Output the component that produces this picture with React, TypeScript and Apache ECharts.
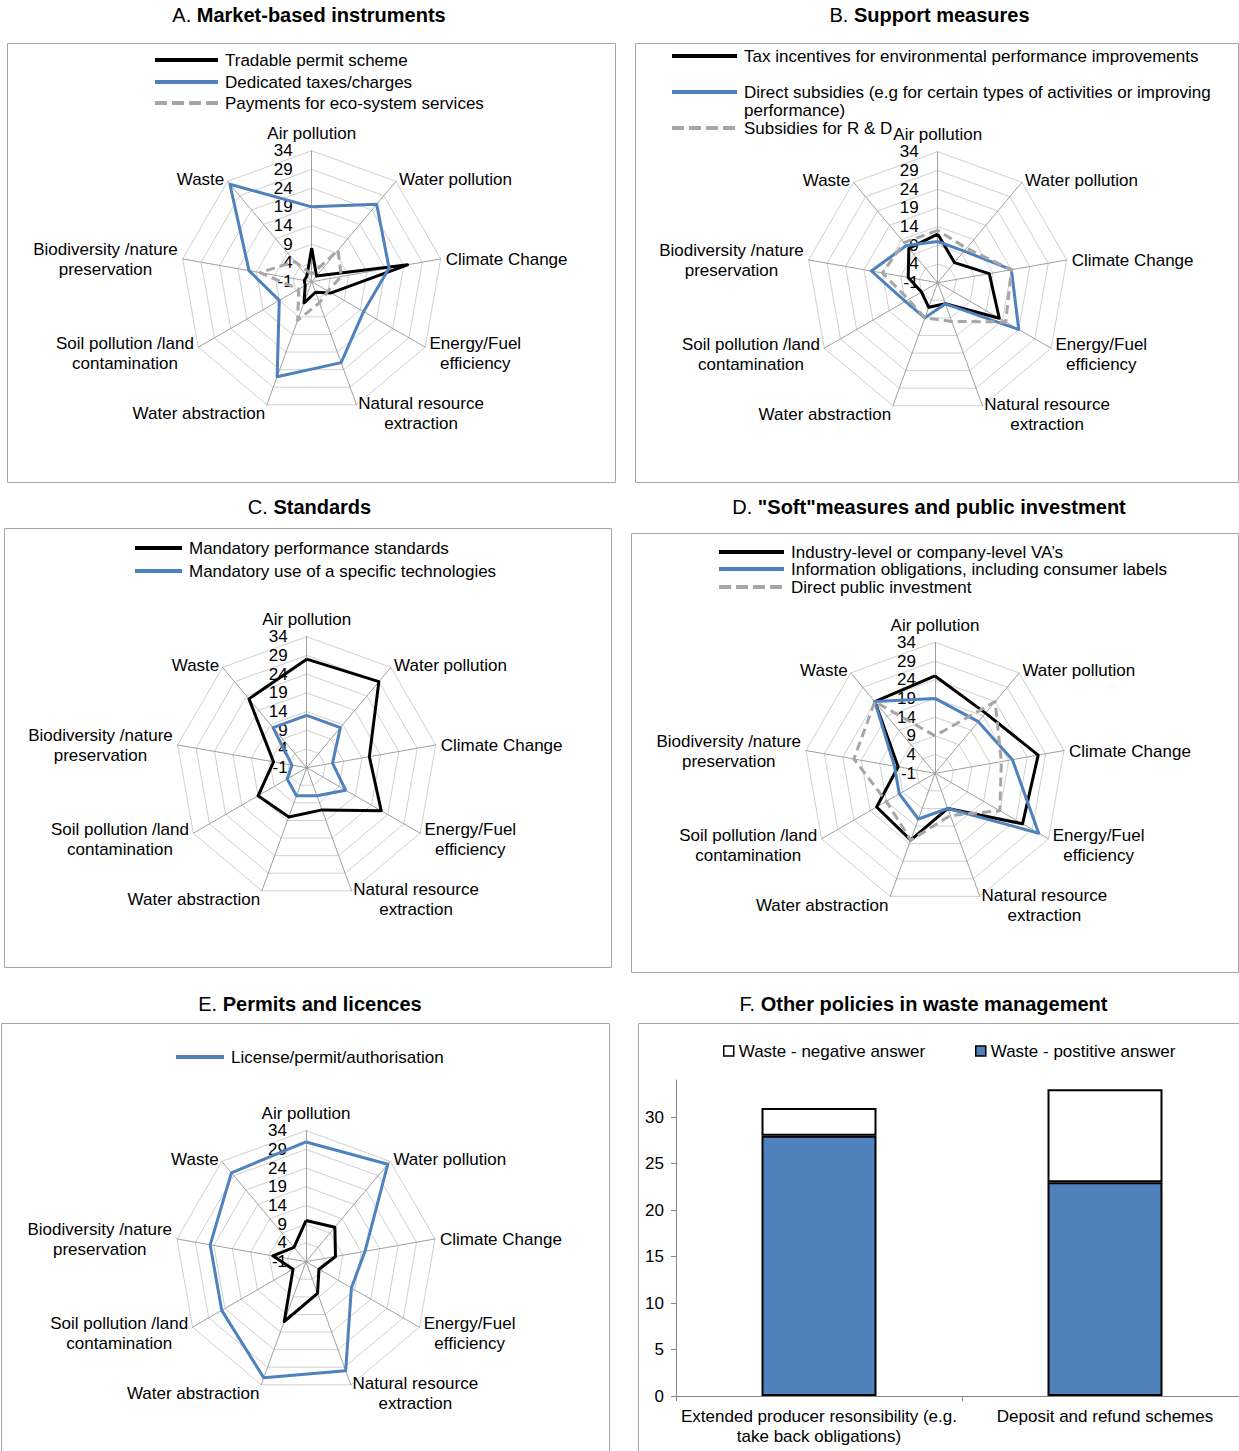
import React, { useEffect, useRef } from 'react';
import * as echarts from 'echarts';

const FONT = '"Liberation Sans", Arial, Helvetica, sans-serif';
const BLACK = '#000000';
const BLUE = '#4f81bd';
const GREY = '#a6a6a6';
const FRAME = '#a6a6a6';
const RING = '#d0d0d0';
const SPOKE = '#a0a0a0';
const AXIS = '#868686';

// Radar axes, listed clockwise from the top
const AXES = [
  'Air pollution',
  'Water pollution',
  'Climate Change',
  'Energy/Fuel\nefficiency',
  'Natural resource\nextraction',
  'Water abstraction',
  'Soil pollution /land\ncontamination',
  'Biodiversity /nature\npreservation',
  'Waste',
];
// Axes whose names sit in the lower half of the radar
const LOWER_AXES = [3, 4, 5, 6];

const RADAR_MIN = -1;
const RADAR_MAX = 34;
const RADAR_SPLITS = 7;

// A. Market-based instruments
const tradablePermits = [8, 1, 25, 5, 2, 5, 1, 1, 1];
const dedicatedTaxes = [19, 26, 20, 15, 22, 26, 9, 16, 33];
const ecosystemPayments = [1, 10, 7, 4, 5, 10, 3, 13, 6];
// B. Support measures
const taxIncentives = [12, 6, 13, 18, 5, 6, 4, 7, 11];
const directSubsidies = [10, 10, 19, 24, 5, 9, 9, 17, 12];
const rdSubsidies = [13, 11, 19, 20, 10, 9, 8, 14, 13];
// C. Standards
const performanceStandards = [28, 29, 16, 22, 11, 13, 14, 8, 23];
const specificTechnologies = [13, 13, 6, 11, 7, 7, 5, 3, 13];
// D. "Soft" measures and public investment
const voluntaryAgreements = [25, 20, 27, 26, 9, 18, 17, 9, 24];
const informationObligations = [19, 17, 20, 31, 9, 12, 10, 10, 24];
const publicInvestment = [9, 24, 17, 19, 11, 18, 14, 21, 24];
// E. Permits and licences
const licences = [31, 33, 15, 13, 30, 32, 25, 25, 30];
const otherPermits = [10, 11, 7, 3, 8, 16, 3, 8, 4];
// F. Other policies in waste management
const wasteCategories = [
  'Extended producer resonsibility (e.g.\ntake back obligations)',
  'Deposit and refund schemes',
];
const wastePositive = [28, 23];
const wasteNegative = [3, 10];
const wasteTicks = [0, 5, 10, 15, 20, 25, 30];
const WASTE_MAX = 34;

// ECharts places radar indicators counter-clockwise; reorder so the axes run clockwise.
const CLOCKWISE = [0, 8, 7, 6, 5, 4, 3, 2, 1];
const clockwise = <T,>(arr: T[]): T[] => CLOCKWISE.map((i) => arr[i]);

type Line = {
  name: string;
  values: number[];
  color: string;
  dashed?: boolean;
  legendY?: number;
  wrapped?: boolean;
  legendLineHeight?: number;
};

type Panel = {
  prefix: string;
  title: string;
  titleX: number;
  titleY: number;
  center?: [number, number];
  legendX?: number;
  legendW?: number;
  lines?: Line[];
};

const PANELS: Panel[] = [
  {
    prefix: 'A.', title: 'Market-based instruments', titleX: 309, titleY: 15,
    center: [311.7, 281.7], legendX: 155, legendW: 63,
    lines: [
      { name: 'Tradable permit scheme', values: tradablePermits, color: BLACK, legendY: 60 },
      { name: 'Dedicated taxes/charges', values: dedicatedTaxes, color: BLUE, legendY: 82 },
      { name: 'Payments for eco-system services', values: ecosystemPayments, color: GREY, dashed: true, legendY: 103 },
    ],
  },
  {
    prefix: 'B.', title: 'Support measures', titleX: 929.5, titleY: 15,
    center: [937.7, 282.7], legendX: 672, legendW: 65,
    lines: [
      { name: 'Tax incentives for environmental performance improvements', values: taxIncentives, color: BLACK, legendY: 56 },
      { name: 'Direct subsidies (e.g for certain types of activities or improving performance)', values: directSubsidies, color: BLUE, legendY: 92, wrapped: true, legendLineHeight: 18 },
      { name: 'Subsidies for R & D', values: rdSubsidies, color: GREY, dashed: true, legendY: 128, legendLineHeight: 18 },
    ],
  },
  {
    prefix: 'C.', title: 'Standards', titleX: 309.5, titleY: 507,
    center: [306.7, 767.7], legendX: 135, legendW: 47,
    lines: [
      { name: 'Mandatory performance standards', values: performanceStandards, color: BLACK, legendY: 548 },
      { name: 'Mandatory use of a specific technologies', values: specificTechnologies, color: BLUE, legendY: 571 },
    ],
  },
  {
    prefix: 'D.', title: '"Soft"measures and public investment', titleX: 929, titleY: 507,
    center: [935, 773.3], legendX: 719, legendW: 65,
    lines: [
      { name: 'Industry-level or company-level VA\u2019s', values: voluntaryAgreements, color: BLACK, legendY: 552, legendLineHeight: 17 },
      { name: 'Information obligations, including consumer labels', values: informationObligations, color: BLUE, legendY: 569, legendLineHeight: 17 },
      { name: 'Direct public investment', values: publicInvestment, color: GREY, dashed: true, legendY: 587, legendLineHeight: 17 },
    ],
  },
  {
    prefix: 'E.', title: 'Permits and licences', titleX: 310, titleY: 1004,
    center: [306, 1261.7], legendX: 176, legendW: 48,
    lines: [
      { name: 'Permits - other instruments', values: otherPermits, color: BLACK },
      { name: 'License/permit/authorisation', values: licences, color: BLUE, legendY: 1057 },
    ],
  },
  { prefix: 'F.', title: 'Other policies in waste management', titleX: 923.5, titleY: 1004 },
];

// Panel frames: x, y, width, height
const FRAMES: [number, number, number, number][] = [
  [7, 43, 608, 439],
  [635, 43, 603, 439],
  [4, 528, 607, 439],
  [631, 533, 607, 439],
  [1, 1023, 608, 440],
  [638, 1023, 610, 440],
];

const TEXT_STYLE = { fontSize: 17, fontFamily: FONT, color: '#000', lineHeight: 20 };
const LEGEND_TEXT_GAP = 2;

// Legend line icons; the zero-area tail widens the icon box so the label sits a little further out.
function solidIcon(width: number): string {
  const tail = width + LEGEND_TEXT_GAP;
  return `path://M0,0H${width}V4H0Z M${tail},0L${tail},4`;
}

function dashIcon(width: number): string {
  const parts: string[] = [];
  for (let x = 0; x < width; x += 17) {
    const w = Math.min(12, width - x);
    if (w > 0) parts.push(`M${x},0H${x + w}V4H${x}Z`);
  }
  const tail = width + LEGEND_TEXT_GAP;
  parts.push(`M${tail},0L${tail},4`);
  return 'path://' + parts.join(' ');
}

// A thin spacer line above each side name nudges it down a little.
function axisNameFormatter(name: string): string {
  const idx = AXES.indexOf(name);
  if (idx === 0) return name;
  const spacer = LOWER_AXES.includes(idx) ? '{s| }' : '{t| }';
  return spacer + '\n' + name.split('\n').map((l) => `{c|${l}}`).join('\n');
}

function buildOption() {
  const radarPanels = PANELS.filter((p) => p.center);

  const radar = radarPanels.map((p) => ({
    center: p.center,
    radius: 131,
    startAngle: 90,
    shape: 'polygon',
    splitNumber: RADAR_SPLITS,
    nameGap: 5,
    nameMoveOverlap: false,
    indicator: clockwise(AXES).map((name, i) => ({
      name,
      min: RADAR_MIN,
      max: RADAR_MAX,
      ...(i === 0 ? { axisLabel: { show: true }, nameMoveOverlap: false, nameGap: 7 } : {}),
    })),
    axisName: {
      ...TEXT_STYLE,
      formatter: axisNameFormatter,
      rich: {
        c: { ...TEXT_STYLE, align: 'center' },
        s: { fontSize: 1, lineHeight: 8, fontFamily: FONT },
        t: { fontSize: 1, lineHeight: 3, fontFamily: FONT },
      },
    },
    axisLine: { show: true, lineStyle: { color: SPOKE, width: 1 } },
    axisTick: { show: false },
    axisLabel: {
      show: false, fontSize: 17, lineHeight: 14, fontFamily: FONT, color: '#000', margin: 19,
      showMinLabel: true, showMaxLabel: true,
    },
    splitLine: { show: true, lineStyle: { color: RING, width: 1 } },
    splitArea: { show: false },
  }));

  const series: any[] = [];
  const legend: any[] = [];

  radarPanels.forEach((p, ri) => {
    (p.lines || []).forEach((line) => {
      series.push({
        type: 'radar',
        radarIndex: ri,
        name: line.name,
        symbol: 'none',
        silent: true,
        itemStyle: { color: line.color },
        lineStyle: { color: line.color, width: 3, type: line.dashed ? [9, 5] : 'solid', cap: 'butt' },
        data: [{ name: line.name, value: clockwise(line.values) }],
      });
      if (line.legendY != null) {
        const w = p.legendW as number;
        const lh = line.legendLineHeight ?? 20;
        legend.push({
          data: [{
            name: line.name,
            icon: line.dashed ? dashIcon(w) : solidIcon(w),
            itemStyle: { color: line.color, borderWidth: 0 },
          }],
          left: p.legendX,
          top: line.wrapped ? line.legendY - 1.5 * lh : line.legendY - lh / 2,
          orient: 'horizontal',
          padding: 0,
          itemWidth: w + LEGEND_TEXT_GAP,
          itemHeight: 4,
          itemGap: 0,
          selectedMode: false,
          // a wrapped entry gets an empty first line so its text starts level with the icon
          formatter: line.wrapped ? (n: string) => '\n' + n.replace(' improving ', ' improving\n') : '{name}',
          textStyle: { ...TEXT_STYLE, lineHeight: lh },
        });
      }
    });
  });

  // F. stacked bars
  series.push(
    {
      type: 'bar',
      name: 'Waste - postitive answer',
      stack: 'waste',
      barWidth: 115,
      silent: true,
      data: wastePositive,
      itemStyle: { color: BLUE, borderColor: '#000', borderWidth: 2 },
    },
    {
      type: 'bar',
      name: 'Waste - negative answer',
      stack: 'waste',
      barWidth: 115,
      silent: true,
      data: wasteNegative,
      itemStyle: { color: '#ffffff', borderColor: '#000', borderWidth: 2 },
    }
  );

  const barLegend = (name: string, fill: string, left: number) => ({
    data: [{ name, icon: 'rect', itemStyle: { color: fill, borderColor: '#000', borderWidth: 1.5 } }],
    left,
    top: 1041,
    padding: 0,
    itemWidth: 10,
    itemHeight: 10,
    itemGap: 0,
    selectedMode: false,
    textStyle: { ...TEXT_STYLE },
  });
  legend.push(barLegend('Waste - negative answer', '#ffffff', 723));
  legend.push(barLegend('Waste - postitive answer', BLUE, 975));

  const title = PANELS.map((p) => ({
    text: `{n|${p.prefix} }{b|${p.title}}`,
    left: p.titleX,
    top: p.titleY - 10,
    textAlign: 'center',
    padding: 0,
    textStyle: {
      rich: {
        n: { fontSize: 20, fontFamily: FONT, color: '#000', fontWeight: 'normal', lineHeight: 20 },
        b: { fontSize: 20, fontFamily: FONT, color: '#000', fontWeight: 'bold', lineHeight: 20 },
      },
    },
  }));

  return {
    animation: false,
    backgroundColor: '#ffffff',
    textStyle: { fontFamily: FONT },
    title,
    legend,
    radar,
    grid: { left: 676, top: 1080, width: 572, height: 316, containLabel: false, outerBoundsMode: 'none' },
    xAxis: {
      type: 'category',
      data: wasteCategories,
      axisLine: { show: true, lineStyle: { color: AXIS, width: 1 } },
      axisTick: { show: true, alignWithLabel: false, length: 5, lineStyle: { color: AXIS } },
      axisLabel: { ...TEXT_STYLE, interval: 0, margin: 10 },
      splitLine: { show: false },
    },
    yAxis: {
      type: 'value',
      min: 0,
      max: WASTE_MAX,
      interval: 5,
      axisLine: { show: true, lineStyle: { color: AXIS, width: 1 } },
      axisTick: { show: true, length: 5, lineStyle: { color: AXIS }, customValues: wasteTicks },
      axisLabel: { fontSize: 17, fontFamily: FONT, color: '#000', margin: 12, customValues: wasteTicks },
      splitLine: { show: false },
    },
    series,
    graphic: {
      elements: FRAMES.map(([x, y, w, h]) => ({
        type: 'rect',
        silent: true,
        z: 0,
        shape: { x: x + 0.5, y: y + 0.5, width: w, height: h },
        style: { fill: 'none', stroke: FRAME, lineWidth: 1 },
      })),
    },
  };
}

export default function App() {
  const ref = useRef<HTMLDivElement>(null);
  useEffect(() => {
    if (!ref.current) return;
    const chart = echarts.init(ref.current, null, { renderer: 'svg' });
    chart.setOption(buildOption() as any);
    return () => chart.dispose();
  }, []);
  return (
    <div
      ref={ref}
      style={{ position: 'absolute', left: 0, top: 0, width: 1239, height: 1451, background: '#fff' }}
    />
  );
}
